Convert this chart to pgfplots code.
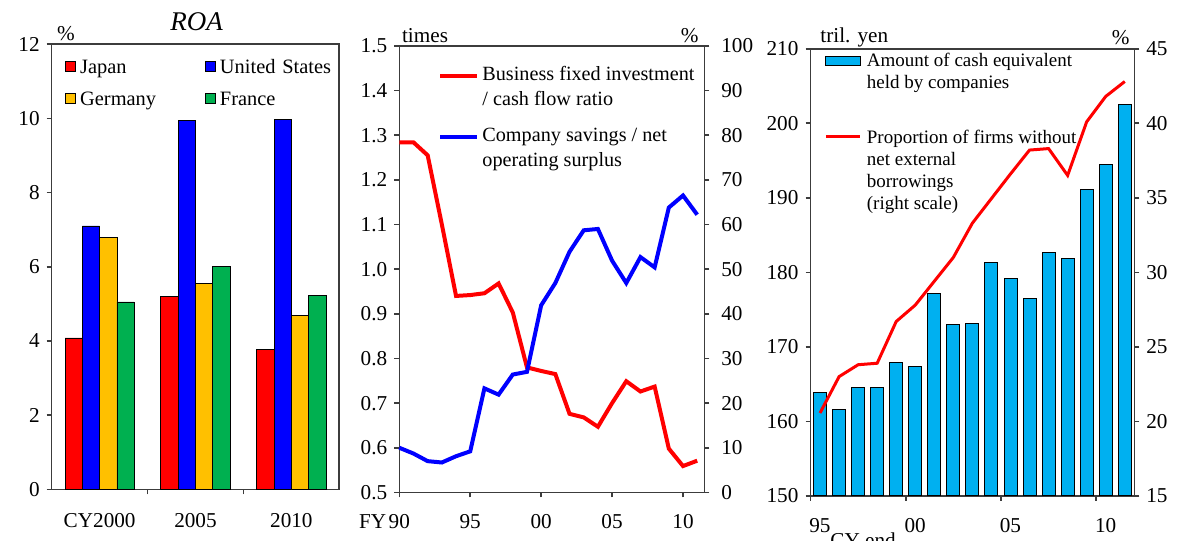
\documentclass[border=0pt]{standalone}
\usepackage{pgfplots}
\pgfplotsset{compat=1.18}
\usepackage{fontspec}
\setmainfont{Liberation Serif}
\definecolor{jpred}{RGB}{255,0,0}
\definecolor{usblue}{RGB}{0,0,255}
\definecolor{deyel}{RGB}{255,192,0}
\definecolor{frgreen}{RGB}{0,176,80}
\definecolor{cashblue}{RGB}{0,176,240}
\definecolor{axgray}{RGB}{60,60,60}
\pgfplotsset{
  base/.style={scale only axis, clip=false,
    axis line style={axgray, line width=0.8pt},
    tick style={axgray, line width=0.8pt},
    tick align=outside, major tick length=2.5pt,
    font=\fontsize{10.6}{12.5}\selectfont,
    /pgf/number format/assume math mode=true,
    legend cell align=left},
  sq legend/.style={legend image code/.code={\draw[##1] (0pt,0.9pt) rectangle (5pt,5.9pt);}},
  mid legend/.style={legend image code/.code={\draw[##1] (0pt,2.25pt) -- (18.5pt,2.25pt);}},
  box legend/.style={legend image code/.code={\draw[##1] (0pt,0.3pt) rectangle (17.25pt,4.8pt);}},
  rline legend/.style={legend image code/.code={\draw[##1] (0pt,3.6pt) -- (17.25pt,3.6pt);}},
}
\begin{document}
\begin{tikzpicture}
% ---------------- Left panel: ROA ----------------
\begin{axis}[base, at={(25.85pt,-22.1pt)}, anchor=north west,
  width=143.8pt, height=222.55pt,
  ybar=0pt, bar width=8.65pt,
  xmin=-0.5, xmax=2.5, ymin=0, ymax=12,
  ytick={0,2,4,6,8,10,12}, ytick pos=left,
  xtick={0.5,1.5}, xticklabels={}, xtick pos=left,
  extra x ticks={0,1,2}, extra x tick labels={CY2000,2005,2010},
  extra x tick style={major tick length=0pt, tick label style={yshift=-8.5pt}},
  legend columns=2,
  legend style={at={(0,1)}, anchor=north west, xshift=6.65pt, yshift=-5.9pt,
    draw=none, fill=none, inner sep=0pt, column sep=1pt, row sep=3.85pt,
    font=\fontsize{10.2}{12}\selectfont,
    cells={anchor=base west},
    nodes={inner sep=1pt, text height=7.5pt, text depth=2.5pt, text width=60.5pt, align=left}},
]
\addplot[fill=jpred, draw=black, line width=0.4pt, sq legend] coordinates {(0,4.08) (1,5.19) (2,3.77)};
\addlegendentry{Japan}
\addplot[fill=usblue, draw=black, line width=0.4pt, sq legend] coordinates {(0,7.10) (1,9.94) (2,9.97)};
\addlegendentry{United States}
\addplot[fill=deyel, draw=black, line width=0.4pt, sq legend] coordinates {(0,6.80) (1,5.54) (2,4.68)};
\addlegendentry{Germany}
\addplot[fill=frgreen, draw=black, line width=0.4pt, sq legend] coordinates {(0,5.05) (1,6.00) (2,5.22)};
\addlegendentry{France}
\node[anchor=base west, inner sep=0, xshift=2.5pt, yshift=1.75pt] at (rel axis cs:0,1) {\%};
\node[anchor=base, inner sep=0, xshift=0.6pt, yshift=6.9pt, font=\itshape\fontsize{13.5}{15}\selectfont] at (rel axis cs:0.5,1) {ROA};
\end{axis}

% ---------------- Middle panel ----------------
\begin{axis}[base, at={(199.65pt,-22.95pt)}, anchor=north west,
  width=152.5pt, height=223.25pt,
  xmin=1990, xmax=2011.5, ymin=0.5, ymax=1.5,
  ytick={0.5,0.6,0.7,0.8,0.9,1.0,1.1,1.2,1.3,1.4,1.5}, ytick pos=left,
  yticklabel style={/pgf/number format/.cd, fixed, fixed zerofill, precision=1},
  xtick={1990,1995,2000,2005,2010}, xtick pos=left,
  xticklabels={\llap{FY\hspace{1.3pt}}90,95,00,05,10},
  xticklabel style={yshift=-5pt},
  legend style={at={(0,1)}, anchor=north west, xshift=19.35pt, yshift=-8.3pt,
    draw=none, fill=none, inner sep=0pt, column sep=1.5pt, row sep=20.25pt,
    font=\fontsize{10.1}{12.5}\selectfont,
    cells={anchor=base west}, nodes={inner sep=0pt}},
]
\addplot[jpred, line width=2pt, mid legend] coordinates {
(1990,1.284) (1991,1.284) (1992,1.255) (1993,1.100) (1994,0.940) (1995,0.942)
(1996,0.946) (1997,0.968) (1998,0.903) (1999,0.780) (2000,0.772) (2001,0.765)
(2002,0.676) (2003,0.668) (2004,0.647) (2005,0.700) (2006,0.749) (2007,0.726)
(2008,0.737) (2009,0.598) (2010,0.559) (2011,0.571)};
\addlegendentry{\begin{tabular}[t]{@{}l@{}}Business fixed investment\\/ cash flow ratio\end{tabular}}
\addlegendimage{usblue, line width=2pt, mid legend}
\addlegendentry{\begin{tabular}[t]{@{}l@{}}Company savings / net\\operating surplus\end{tabular}}
\node[anchor=base west, inner sep=0, xshift=1.2pt, yshift=1.95pt] at (rel axis cs:0,1) {times};
\node[anchor=base east, inner sep=0, xshift=-2.65pt, yshift=1.95pt] at (rel axis cs:1,1) {\%};
\end{axis}
\begin{axis}[base, at={(199.65pt,-22.95pt)}, anchor=north west,
  width=152.5pt, height=223.25pt,
  xmin=1990, xmax=2011.5, ymin=0, ymax=100,
  ytick={0,10,20,30,40,50,60,70,80,90,100},
  yticklabel style={xshift=2.5pt},
  axis y line*=right, hide x axis,
]
\addplot[usblue, line width=2pt] coordinates {
(1990,10.0) (1991,8.7) (1992,7.0) (1993,6.7) (1994,8.1) (1995,9.2)
(1996,23.3) (1997,21.9) (1998,26.4) (1999,27.0) (2000,41.9) (2001,46.9)
(2002,53.9) (2003,58.7) (2004,59.0) (2005,51.9) (2006,46.9) (2007,52.7)
(2008,50.4) (2009,63.8) (2010,66.5) (2011,62.2)};
\end{axis}

% ---------------- Right panel ----------------
\begin{axis}[base, at={(405.25pt,-24.35pt)}, anchor=north west,
  width=161.9pt, height=223.6pt,
  xmin=1995, xmax=2012, ymin=150, ymax=210,
  ytick={150,160,170,180,190,200,210}, ytick pos=left,
  xtick={1995,2000,2005,2010}, xticklabels={95,00,05,10}, xtick pos=left,
  xticklabel style={xshift=4.7pt, yshift=-5pt},
  ybar, bar width=6.5pt,
  legend style={at={(0,1)}, anchor=north west, xshift=6.75pt, yshift=-0.9pt,
    draw=none, fill=none, inner sep=0pt, column sep=2.5pt, row sep=29.4pt,
    font=\fontsize{9.5}{11}\selectfont,
    cells={anchor=base west}, nodes={inner sep=0pt}},
]
\addplot[fill=cashblue, draw=black, line width=0.5pt, box legend] coordinates {
(1995.5,163.9) (1996.5,161.6) (1997.5,164.6) (1998.5,164.6) (1999.5,167.9) (2000.5,167.4)
(2001.5,177.2) (2002.5,173.0) (2003.5,173.1) (2004.5,181.25) (2005.5,179.2) (2006.5,176.5)
(2007.5,182.6) (2008.5,181.9) (2009.5,191.1) (2010.5,194.5) (2011.5,202.5)};
\addlegendentry{\begin{tabular}[t]{@{}l@{}}Amount of cash equivalent\\held by companies\end{tabular}}
\addlegendimage{jpred, line width=1.5pt, rline legend}
\addlegendentry{\begin{tabular}[t]{@{}l@{}}Proportion of firms without\\net external\\borrowings\\(right scale)\end{tabular}}
\node[anchor=base west, inner sep=0, xshift=4.75pt, yshift=3.35pt] at (rel axis cs:0,1) {tril. yen};
\node[anchor=base east, inner sep=0, xshift=-2.15pt, yshift=2.35pt] at (rel axis cs:1,1) {\%};
\node[anchor=base west, inner sep=0, xshift=9.75pt, yshift=-25.55pt] at (rel axis cs:0,0) {CY end};
\end{axis}
\begin{axis}[base, at={(405.25pt,-24.35pt)}, anchor=north west,
  width=161.9pt, height=223.6pt,
  xmin=1995, xmax=2012, ymin=15, ymax=45,
  ytick={15,20,25,30,35,40,45},
  axis y line*=right, hide x axis,
]
\addplot[jpred, line width=1.5pt] coordinates {
(1995.5,20.56) (1996.5,23.0) (1997.5,23.8) (1998.5,23.9) (1999.5,26.7) (2000.5,27.8)
(2001.5,29.4) (2002.5,31.0) (2003.5,33.3) (2004.5,34.95) (2005.5,36.6) (2006.5,38.2)
(2007.5,38.3) (2008.5,36.5) (2009.5,40.1) (2010.5,41.8) (2011.5,42.8)};
\end{axis}
\pgfresetboundingbox
\useasboundingbox (0pt,0pt) rectangle (592pt,-270.5pt);
\end{tikzpicture}
\end{document}
